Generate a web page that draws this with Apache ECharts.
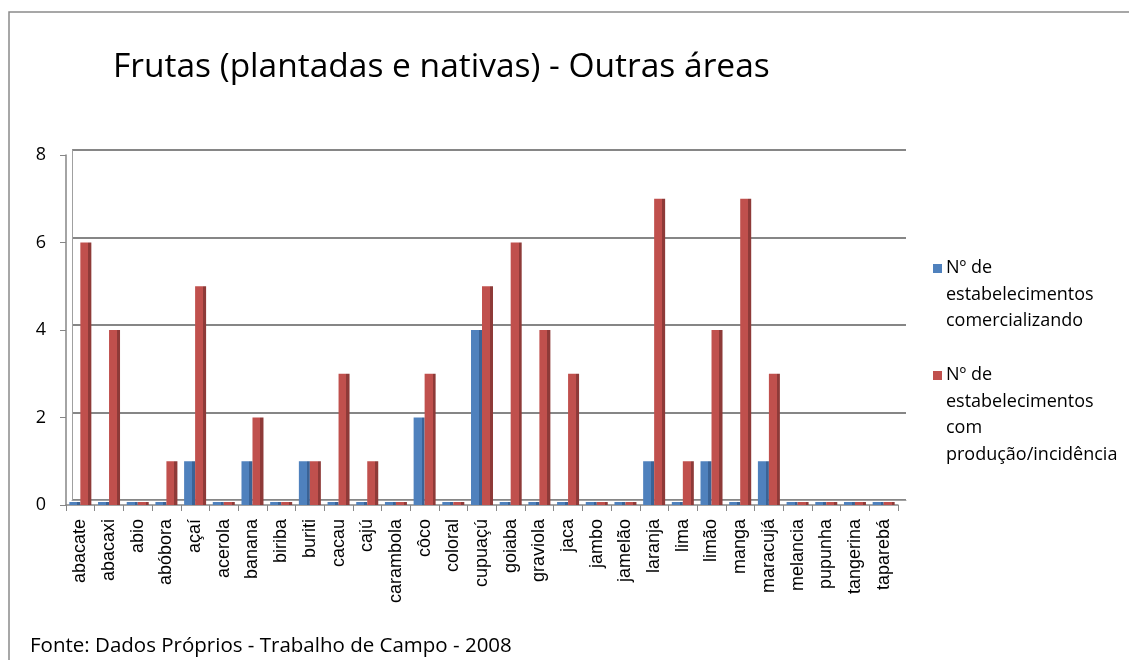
<!DOCTYPE html>
<html>
<head>
<meta charset="utf-8">
<script src="https://cdn.jsdelivr.net/npm/echarts@6/dist/echarts.min.js"></script>
<style>
  html, body { margin: 0; padding: 0; background: #fff; }
  #chart { width: 1129px; height: 660px; }
</style>
</head>
<body>
<div id="chart"></div>
<script>
// dados
const frutas = ["abacate", "abacaxi", "abio", "abóbora", "açaí", "acerola", "banana", "biriba", "buriti", "cacau",
  "cajú", "carambola", "côco", "coloral", "cupuaçú", "goiaba", "graviola", "jaca", "jambo", "jamelão",
  "laranja", "lima", "limão", "manga", "maracujá", "melancia", "pupunha", "tangerina", "taparebá"];
const comercializando = [0, 0, 0, 0, 1, 0, 1, 0, 1, 0, 0, 0, 2, 0, 4, 0, 0, 0, 0, 0, 1, 0, 1, 0, 1, 0, 0, 0, 0];
const producao = [6, 4, 0, 1, 5, 0, 2, 0, 1, 3, 1, 0, 3, 0, 5, 6, 4, 3, 0, 0, 7, 1, 4, 7, 3, 0, 0, 0, 0];
const yTicks = [0, 2, 4, 6, 8];
const nomeSerie1 = "Nº de\nestabelecimentos\ncomercializando";
const nomeSerie2 = "Nº de\nestabelecimentos\ncom\nprodução/incidência";
const cores = ["#4f81bd", "#c0504d"];
const coresLado = ["#3a6396", "#8e3a38"];

const chart = echarts.init(document.getElementById("chart"));

// barra com face lateral escura, imitando o 3D do Excel
function face3d(front, side) {
  return {
    type: "linear", x: 0, y: 0, x2: 1, y2: 0,
    colorStops: [
      { offset: 0, color: front },
      { offset: 0.72, color: front },
      { offset: 0.72, color: side },
      { offset: 1, color: side },
    ],
  };
}

// legenda desenhada à mão: o quadrado fica na primeira linha, como no Excel
function itemLegenda(nome, cor, top) {
  return [
    { type: "rect", shape: { x: 933, y: top + 2, width: 9, height: 9 }, style: { fill: cor }, silent: true },
    {
      type: "text", x: 946, y: top - 7,
      style: { text: nome, font: "18px 'Open Sans'", lineHeight: 26.5, fill: "#000" },
      silent: true,
    },
  ];
}

chart.setOption({
  animation: false,
  title: {
    text: "Frutas (plantadas e nativas) - Outras áreas",
    left: 108,
    top: 45,
    textStyle: { fontFamily: "Open Sans", fontSize: 33.5, fontWeight: "normal", color: "#000" },
  },
  legend: { show: false },
  graphic: [
    {
      type: "rect",
      shape: { x: 9, y: 12, width: 1140, height: 700 },
      style: { fill: "none", stroke: "#8a8a8a", lineWidth: 1.5 },
      silent: true,
    },
    {
      type: "text",
      left: 30,
      top: 636,
      style: {
        text: "Fonte: Dados Próprios - Trabalho de Campo - 2008",
        font: "20.5px 'Open Sans'",
        fill: "#000",
      },
    },
    ...itemLegenda(nomeSerie1, cores[0], 262),
    ...itemLegenda(nomeSerie2, cores[1], 369),
  ],
  grid: [
    { left: 66, right: 231, top: 155, bottom: 155 },
    { left: 72, right: 223, top: 150, bottom: 160 },
  ],
  xAxis: [
    {
      type: "category",
      gridIndex: 0,
      data: frutas,
      axisLine: { lineStyle: { color: "#868686", width: 1.5 } },
      axisTick: { show: true, length: 6, lineStyle: { color: "#868686" } },
      axisLabel: {
        interval: 0,
        rotate: 90,
        margin: 14,
        fontFamily: "Liberation Sans",
        fontSize: 18,
        color: "#000",
      },
    },
    {
      type: "category",
      gridIndex: 1,
      data: frutas,
      axisLine: { show: true, lineStyle: { color: "#a0a0a0", width: 1 } },
      axisTick: { show: false },
      axisLabel: { show: false },
    },
  ],
  yAxis: [
    {
      type: "value",
      gridIndex: 0,
      min: yTicks[0],
      max: yTicks[yTicks.length - 1],
      interval: 2,
      axisLine: { show: true, lineStyle: { color: "#868686", width: 1.5 } },
      axisTick: { show: true, length: 6, lineStyle: { color: "#868686" } },
      splitLine: { show: false },
      axisLabel: { fontFamily: "Open Sans", fontSize: 18, color: "#000", margin: 20 },
    },
    {
      type: "value",
      gridIndex: 1,
      min: yTicks[0],
      max: yTicks[yTicks.length - 1],
      interval: 2,
      axisLine: { show: true, lineStyle: { color: "#a0a0a0", width: 1 } },
      axisTick: { show: false },
      axisLabel: { show: false },
      splitLine: { show: true, lineStyle: { color: "#868686", width: 2 } },
    },
  ],
  series: [
    {
      name: nomeSerie1,
      type: "bar",
      xAxisIndex: 0,
      yAxisIndex: 0,
      data: comercializando,
      barWidth: 11,
      barGap: "0%",
      barMinHeight: 3,
      color: cores[0],
      itemStyle: { color: face3d(cores[0], coresLado[0]) },
      z: 3,
    },
    {
      name: nomeSerie2,
      type: "bar",
      xAxisIndex: 0,
      yAxisIndex: 0,
      data: producao,
      barWidth: 11,
      barGap: "0%",
      barMinHeight: 3,
      color: cores[1],
      itemStyle: { color: face3d(cores[1], coresLado[1]) },
      z: 3,
    },
  ],
});
</script>
</body>
</html>
